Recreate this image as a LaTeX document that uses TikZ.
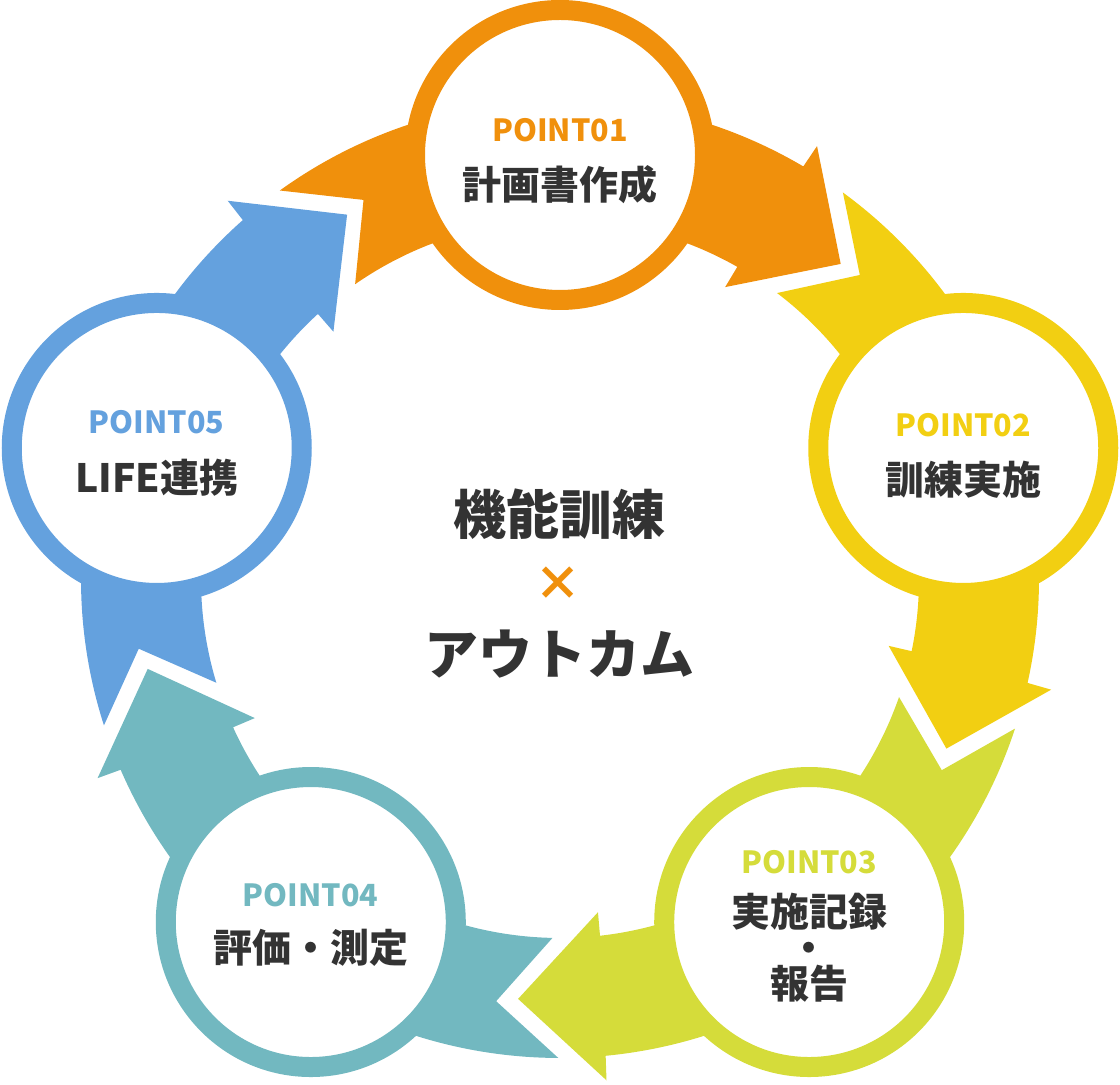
\documentclass[tikz,border=0pt]{standalone}
\usepackage{fontspec}
\newfontfamily\jp{Noto Sans CJK JP}
\definecolor{corange}{HTML}{F0900C}
\definecolor{cyellow}{HTML}{F2CF12}
\definecolor{cgreen}{HTML}{D5DC3A}
\definecolor{cteal}{HTML}{72B8C0}
\definecolor{cblue}{HTML}{64A1DE}
\definecolor{ctext}{HTML}{333333}
\tikzset{
  ring/.style={circle, draw=#1, line width=20pt, fill=white, minimum size=290pt, inner sep=0pt},
  ptlabel/.style={text=#1, font=\jp\bfseries\fontsize{30.5}{30.5}\selectfont, inner sep=0pt},
  mainlabel/.style={text=ctext, font=\jp\bfseries\fontsize{39}{36}\selectfont, inner sep=0pt, align=center},
  centerlabel/.style={text=ctext, font=\jp\bfseries\fontsize{53}{53}\selectfont, inner sep=0pt}
}
\begin{document}
\begin{tikzpicture}[x=1pt,y=1pt]
\useasboundingbox (0,0) rectangle (1120,1085);
\coordinate (C) at (560,506);
% arrow bands
\foreach \k/\c in {0/corange,1/cyellow,2/cgreen,3/cteal,4/cblue}{
  \begin{scope}[shift={(C)}, rotate=-72*\k]
    \fill[\c] (125.8:479pt) arc[start angle=125.8, end angle=59.47, radius=479pt]
      -- (59.3:503.5pt) -- (48.3:422pt) -- (60.5:335.4pt) -- (60.4:359pt)
      arc[start angle=60.4, end angle=124.8, radius=359pt]
      -- (117.4:427pt) -- cycle;
  \end{scope}
}
% circles
\node[ring=corange] (p1) at ([shift={(90:424pt)}]C) {};
\node[ring=cyellow] (p2) at ([shift={(18:424pt)}]C) {};
\node[ring=cgreen]  (p3) at ([shift={(-54:424pt)}]C) {};
\node[ring=cteal]   (p4) at ([shift={(-126:424pt)}]C) {};
\node[ring=cblue]   (p5) at ([shift={(162:424pt)}]C) {};
% labels
\node[ptlabel=corange] (t1a) at ([yshift=25pt]p1.center) {POINT01};
\node[mainlabel] (t1b) at ([yshift=-30pt]p1.center) {計画書作成};
\node[ptlabel=cyellow] (t2a) at ([yshift=23pt]p2.center) {POINT02};
\node[mainlabel] (t2b) at ([yshift=-32pt]p2.center) {訓練実施};
\node[ptlabel=cgreen] (t3a) at ([yshift=60pt]p3.center) {POINT03};
\node[mainlabel] (t3b) at ([yshift=-26pt]p3.center) {実施記録\\・\\報告};
\node[ptlabel=cteal] (t4a) at ([yshift=27pt]p4.center) {POINT04};
\node[mainlabel] (t4b) at ([yshift=-26pt]p4.center) {評価・測定};
\node[ptlabel=cblue] (t5a) at ([yshift=26pt]p5.center) {POINT05};
\node[mainlabel] (t5b) at ([yshift=-30pt]p5.center) {LIFE連携};
% center
\node[centerlabel] (c1) at (559,571) {機能訓練};
\node[text=corange, font=\jp\bfseries\fontsize{47}{47}\selectfont, inner sep=0pt] (c2) at (558,501) {×};
\node[centerlabel, font=\jp\bfseries\fontsize{54}{54}\selectfont] (c3) at (559,431) {アウトカム};
\end{tikzpicture}
\end{document}
